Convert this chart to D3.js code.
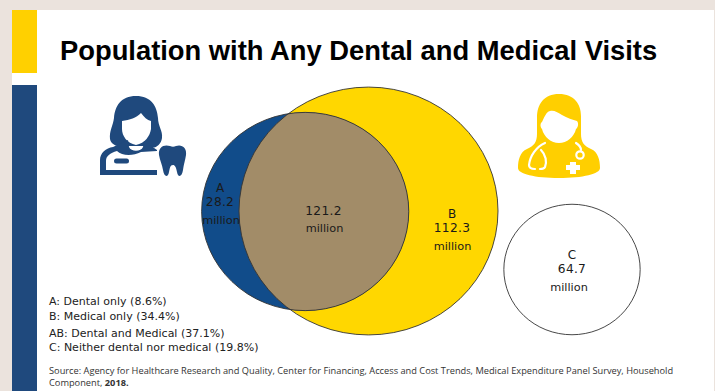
<!DOCTYPE html>
<html>
<head>
<meta charset="utf-8">
<script src="https://cdn.jsdelivr.net/npm/d3@7/dist/d3.min.js"></script>
<style>
html,body{margin:0;padding:0;background:#ebe3dd;}
svg{display:block;}
</style>
</head>
<body>
<svg id="chart" width="715" height="391"></svg>
<script>
// Survey population, millions of people
const regionKeys = ["A", "AB", "B", "C"];
const regionValues = [28.2, 121.2, 112.3, 64.7];
const legendLines = [
  "A: Dental only (8.6%)",
  "B: Medical only (34.4%)",
  "AB: Dental and Medical (37.1%)",
  "C: Neither dental nor medical (19.8%)"
];
const sourceLines = [
  "Source: Agency for Healthcare Research and Quality, Center for Financing, Access and Cost Trends, Medical Expenditure Panel Survey, Household",
  "Component, "
];
const sourceYear = "2018.";
const titleText = "Population with Any Dental and Medical Visits";

const value = k => regionValues[regionKeys.indexOf(k)];
const dentalTotal = value("A") + value("AB");
const medicalTotal = value("B") + value("AB");
const neitherTotal = value("C");

const svg = d3.select("#chart");
const BLUE = "#114c8a", GOLD = "#ffd700", OVERLAP = "#a28c68";

// Slide panel and side bands
svg.append("rect").attr("x", 12).attr("y", 10).attr("width", 702).attr("height", 381).attr("fill", "#fff");
svg.append("rect").attr("x", 12).attr("y", 10).attr("width", 25).attr("height", 63).attr("fill", "#ffd000");
svg.append("rect").attr("x", 12).attr("y", 85).attr("width", 25).attr("height", 306).attr("fill", "#1f497d");

svg.append("text").text(titleText)
  .attr("x", 60).attr("y", 60)
  .attr("font-family", "'Liberation Sans', Arial, sans-serif")
  .attr("font-weight", 700).attr("font-size", 27.35).attr("fill", "#000");

// Circle areas are proportional to the population they hold
const radius = d3.scaleSqrt().domain([0, medicalTotal]).range([0, 129.5]);
const yAspect = 0.957;
const circles = [
  {key: "dental", total: dentalTotal, cx: 305.2, cy: 211.5},
  {key: "medical", total: medicalTotal, cx: 368.5, cy: 211},
  {key: "neither", total: neitherTotal, cx: 572, cy: 269.5}
];
const byKey = k => circles.find(c => c.key === k);
const outline = sel => sel
  .attr("cx", d => d.cx).attr("cy", d => d.cy)
  .attr("rx", d => radius(d.total)).attr("ry", d => radius(d.total) * yAspect);

const defs = svg.append("defs");
defs.append("clipPath").attr("id", "dentalClip").append("ellipse").datum(byKey("dental")).call(outline);

svg.append("ellipse").datum(byKey("medical")).call(outline).attr("fill", GOLD);
svg.append("ellipse").datum(byKey("dental")).call(outline).attr("fill", BLUE);
svg.append("ellipse").datum(byKey("medical")).call(outline)
  .attr("fill", OVERLAP).attr("clip-path", "url(#dentalClip)");
svg.selectAll("ellipse.edge").data(circles).join("ellipse").attr("class", "edge").call(outline)
  .attr("fill", "none").attr("stroke", "#333").attr("stroke-width", 0.9);

// Region labels: letter, value, unit
const labels = [
  {letter: "A", key: "A", x: 220, y: 192, unitX: 221},
  {letter: "", key: "AB", x: 323.5, y: 215, unitX: 324.5},
  {letter: "B", key: "B", x: 452, y: 218, unitX: 452.5},
  {letter: "C", key: "C", x: 572, y: 259, unitX: 569}
];
const labelG = svg.append("g").attr("font-family", "'DejaVu Sans', sans-serif").attr("fill", "#1a1a1a");
labels.forEach(l => {
  if (l.letter) labelG.append("text").text(l.letter).attr("x", l.x).attr("y", l.y)
    .attr("text-anchor", "middle").attr("font-size", 12);
  labelG.append("text").text(d3.format(".1f")(value(l.key)))
    .attr("x", l.x).attr("y", l.letter ? l.y + 14 : l.y)
    .attr("text-anchor", "middle").attr("font-size", 12.2).attr("letter-spacing", 0.3);
  labelG.append("text").text("million")
    .attr("x", l.unitX).attr("y", l.letter ? l.y + 31.5 : l.y + 17)
    .attr("text-anchor", "middle").attr("font-size", 11.3);
});

// Legend block
const legendY = [305, 320, 337, 351];
svg.append("g").selectAll("text").data(legendLines).join("text")
  .text(d => d)
  .attr("x", 49).attr("y", (d, i) => legendY[i])
  .attr("font-family", "'DejaVu Sans', sans-serif").attr("font-size", 11).attr("fill", "#222");

// Source note
const note = svg.append("g").attr("font-family", "'Open Sans', sans-serif").attr("font-size", 9.25).attr("fill", "#333");
note.append("text").text(sourceLines[0]).attr("x", 49).attr("y", 374);
const second = note.append("text").attr("x", 49).attr("y", 386);
second.append("tspan").text(sourceLines[1]);
second.append("tspan").text(sourceYear).attr("font-weight", 700);

// Dentist pictogram
const navy = "#1f497d";
const dentist = svg.append("g");
dentist.append("path").attr("fill", navy).attr("d",
  "M136,96 C121,96 115,106 114,118 C113,126 109,131 110,139 C111,145 119,148 125,146 L149,146 C153,150 161,146 162,138 C163,131 158,126 158,118 C157,106 151,96 136,96 Z");
dentist.append("path").attr("fill", "#fff").attr("d",
  "M122,121 C130,120 136,118 141,113 C144,117 147,120 151,121 L151,129 C150,136 145,143 136,145 C127,143 122,136 122,129 Z");
dentist.append("path").attr("fill", navy).attr("d",
  "M100,175 L100,160 C100,153 106,148 113,147 L128,140 L129,147 C131,152 141,152 143,147 L144,141 L157,150 L157,175 Z");
dentist.append("path").attr("fill", "#fff").attr("d",
  "M106,170 L106,161 C106,156 110,153 117,151 C122,156 133,156 141,152 L157,151 L158,170 Z");
dentist.append("rect").attr("x", 114).attr("y", 158.5).attr("width", 15).attr("height", 5).attr("rx", 2.5).attr("fill", navy);
dentist.append("path").attr("fill", navy).attr("d",
  "M159,155 C158,147 164,144 170,146 C172,147 174,147 176,146 C182,144 187,148 186,155 C185,161 184,163 183,170 C182,177 178,178 177,172 C176,167 175,165 173,165 C170,165 170,168 169,172 C168,178 164,177 163,170 C162,164 160,161 159,155 Z");

// Doctor pictogram
const amber = "#ffcf00";
const doctor = svg.append("g");
doctor.append("path").attr("fill", amber).attr("d",
  "M559,94 C544,94 537,104 537,118 L537,134 C537,142 534,146 527,149 C520,152 518,160 518,168 C518,174 535,178 559,178 C583,178 600,174 600,168 C600,160 598,152 591,149 C584,146 581,142 581,134 L581,116 C581,104 574,94 559,94 Z");
doctor.append("path").attr("fill", "#fff").attr("d",
  "M550,111 C554,110 557,112 562,115 C567,118 573,120 577,121 C579,123 578,128 576,129 C574,137 567,143 559,143 C551,143 544,137 542,129 C540,127 540,123 542,122 C544,118 546,112 550,111 Z");
const st = doctor.append("g").attr("fill", "none").attr("stroke", "#fff").attr("stroke-width", 2.2).attr("stroke-linecap", "round");
st.append("path").attr("d", "M545,143 C536,147 530,156 529,165 C529,168 531,169 535,169");
st.append("path").attr("d", "M541,150 C546,155 547,162 545,167 C544,169 542,169 540,169");
st.append("path").attr("d", "M576,143 C579,145 581,147 581,150");
st.append("circle").attr("cx", 580).attr("cy", 155).attr("r", 3.7);
doctor.append("path").attr("fill", "#fff").attr("d",
  "M570,162 L576,162 L576,165 L580,165 L580,170 L576,170 L576,174 L570,174 L570,170 L566,170 L566,165 L570,165 Z");
</script>
</body>
</html>
